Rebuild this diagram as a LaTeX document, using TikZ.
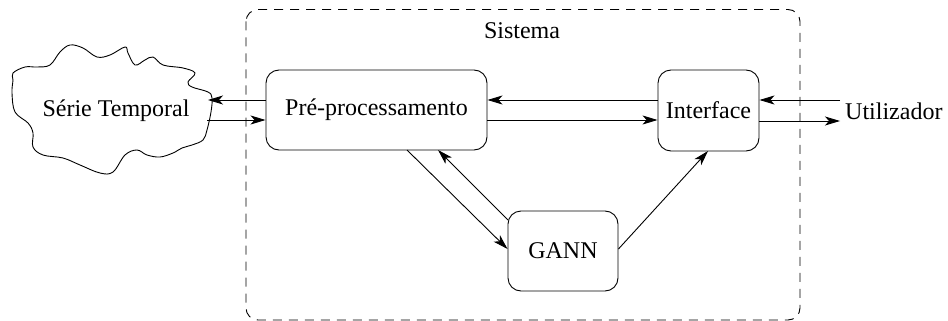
\documentclass[tikz,border=0pt]{standalone}
\usepackage{fontspec}
\setmainfont{Liberation Serif}
\usetikzlibrary{arrows.meta}
\begin{document}
\begin{tikzpicture}[x=1pt,y=-1pt,
  every node/.style={font=\fontsize{24}{28}\selectfont},
  blockbox/.style={draw,line width=0.9pt,rounded corners=13pt,inner sep=0pt},
  conn/.style={line width=0.9pt,-{Stealth[length=15pt,width=9pt,inset=4pt]}},
  sysbox/.style={draw,line width=0.9pt,dash pattern=on 9pt off 7pt,rounded corners=12pt}]
\useasboundingbox (0,0) rectangle (948,321);
% system boundary
\draw[sysbox] (246,9.5) rectangle (800,320);
\node (sis) at (522,31) {Sistema};
% cloud
\draw[line width=0.9pt] plot[smooth cycle,tension=0.6] coordinates {
(13,73) (25,67) (37,67) (50,65) (60,52) (70,45) (83,48) (97,57) (110,55)
(125,47) (128,53) (135,65) (145,60) (153,57) (163,65) (183,68) (195,73)
(188,82) (192,87) (208,92) (212,98) (211,112) (207,130) (203,140) (192,145)
(182,148) (173,153) (160,157) (147,155) (137,150) (125,155) (113,172)
(100,173) (80,165) (63,158) (43,155) (33,147) (33,133) (28,123) (15,112)
(12,93) (13,80)};
\node (serie) at (116,111) {Série Temporal};
\coordinate (cloudA) at (208,100);
\coordinate (cloudB) at (207,120);
% blocks
\node[blockbox,minimum width=221pt,minimum height=80pt] (pre) at (376.5,110) {Pré-processamento};
\node[blockbox,minimum width=101pt,minimum height=81pt] (ifc) at (708.5,110.5) {Interface};
\node[blockbox,minimum width=110pt,minimum height=80pt] (gann) at (563,251) {GANN};
\node[anchor=west,inner sep=0pt] (user) at (845,111) {Utilizador};
\coordinate (userA) at (840,100);
\coordinate (userB) at (840,121);
% connectors
\draw[conn] (pre.west |- cloudA) -- (cloudA);
\draw[conn] (cloudB) -- (pre.west |- cloudB);
\draw[conn] (ifc.west |- cloudA) -- (pre.east |- cloudA);
\draw[conn] (pre.east |- cloudB) -- (ifc.west |- cloudB);
\draw[conn] (userA) -- (ifc.east |- userA);
\draw[conn] (ifc.east |- userB) -- (userB);
\draw[conn] (407,150) -- (gann.west |- 0,249);
\draw[conn] (508,220) -- (438,150);
\draw[conn] (gann.east |- 0,249) -- (708,151);
\end{tikzpicture}
\end{document}
